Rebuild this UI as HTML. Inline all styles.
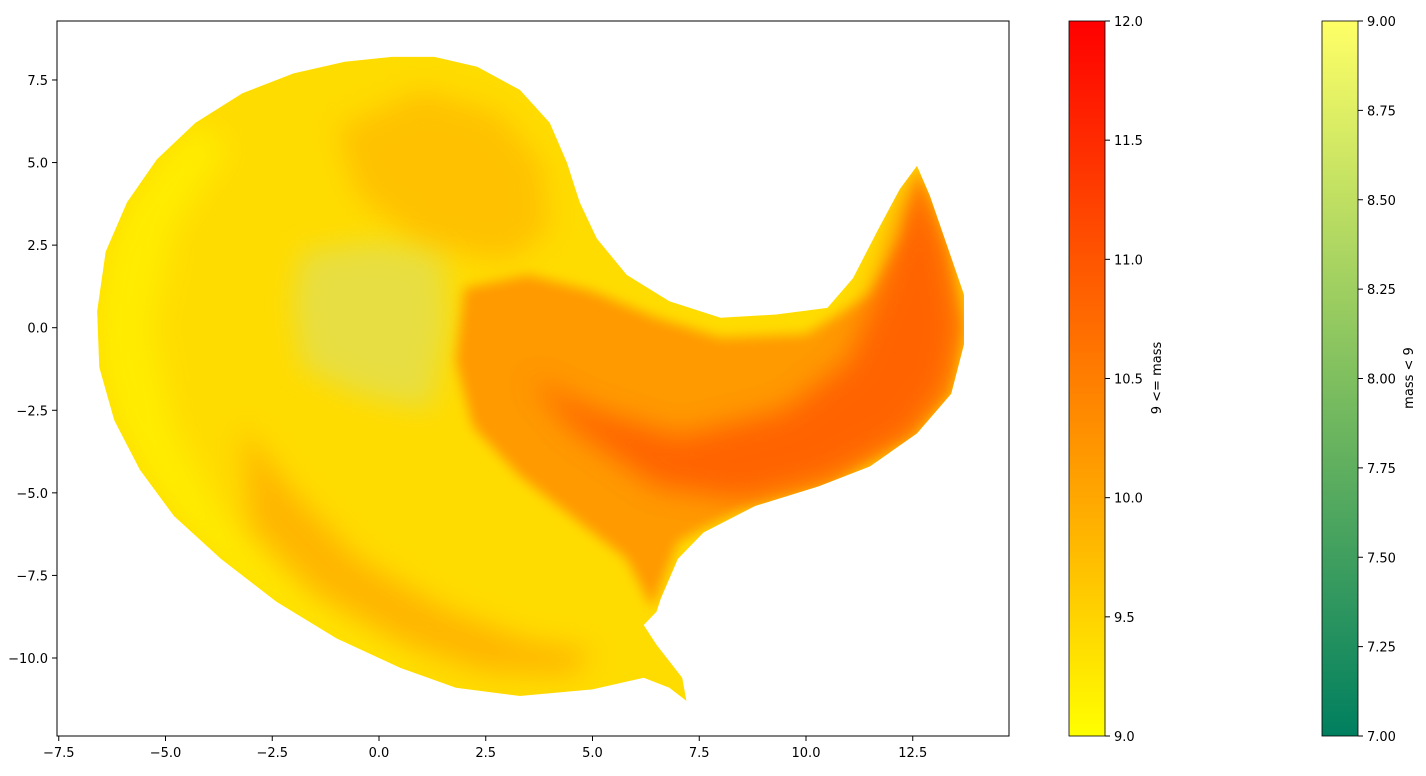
<!DOCTYPE html>
<html><head><meta charset="utf-8"><style>
body{margin:0;background:#fff;}
svg text{font-family:"DejaVu Sans","Liberation Sans",sans-serif;font-size:13px;fill:#000;}
</style></head><body>
<svg id="chart" width="1426" height="771" viewBox="0 0 1426 771">
<defs>
<filter id="blur6" x="-20%" y="-20%" width="140%" height="140%"><feGaussianBlur stdDeviation="6"/></filter>
<filter id="blur14" x="-30%" y="-30%" width="160%" height="160%"><feGaussianBlur stdDeviation="14"/></filter>
<linearGradient id="cb1" x1="0" y1="1" x2="0" y2="0">
<stop offset="0" stop-color="#ffff00"/><stop offset="0.33" stop-color="#ffa800"/><stop offset="0.67" stop-color="#ff5400"/><stop offset="1" stop-color="#ff0000"/></linearGradient>
<linearGradient id="cb2" x1="0" y1="1" x2="0" y2="0">
<stop offset="0" stop-color="#007f5f"/><stop offset="0.5" stop-color="#7fbf5f"/><stop offset="1" stop-color="#ffff66"/></linearGradient>
<clipPath id="blobclip"><path id="clipPathEl"/></clipPath>
</defs>
<g id="plot"></g>
<rect x="57" y="21" width="952" height="715" fill="none" stroke="#000" stroke-width="1"/>
<g id="xt"></g>
<g id="yt"></g>
<rect x="1069" y="21" width="36" height="715" fill="url(#cb1)" stroke="#000" stroke-width="0.8"/>
<g id="cb1t"></g>
<text x="1161" y="378" text-anchor="middle" transform="rotate(-90 1161 378)">9 &lt;= mass</text>
<rect x="1322" y="21" width="36" height="715" fill="url(#cb2)" stroke="#000" stroke-width="0.8"/>
<g id="cb2t"></g>
<text x="1413" y="378" text-anchor="middle" transform="rotate(-90 1413 378)">mass &lt; 9</text>
</svg>
<script>
const xTicks=[-7.5,-5.0,-2.5,0.0,2.5,5.0,7.5,10.0,12.5];
const yTicks=[7.5,5.0,2.5,0.0,-2.5,-5.0,-7.5,-10.0];
const cb1Ticks=[9.0,9.5,10.0,10.5,11.0,11.5,12.0];
const cb2Ticks=[7.00,7.25,7.50,7.75,8.00,8.25,8.50,8.75,9.00];
// region outlines in data coordinates [x,y]
const outerBlob=[[0.3,8.2],[-0.8,8.05],[-2,7.7],[-3.2,7.1],[-4.3,6.2],[-5.2,5.1],[-5.9,3.8],[-6.4,2.3],[-6.6,0.5],[-6.55,-1.2],[-6.2,-2.8],[-5.6,-4.3],[-4.8,-5.7],[-3.7,-7],[-2.4,-8.3],[-1,-9.4],[0.5,-10.3],[1.8,-10.9],[3.3,-11.15],[5,-10.95],[6.2,-10.6],[6.8,-10.9],[7.2,-11.3],[7.1,-10.6],[6.5,-9.6],[6.2,-9],[6.5,-8.6],[6.6,-8.2],[7,-7],[7.6,-6.2],[8.8,-5.4],[10.3,-4.8],[11.5,-4.2],[12.6,-3.2],[13.4,-2],[13.7,-0.5],[13.7,1],[13.3,2.5],[12.9,4],[12.6,4.9],[12.2,4.2],[11.7,3],[11.1,1.5],[10.5,0.6],[9.3,0.4],[8,0.3],[6.8,0.8],[5.8,1.6],[5.1,2.7],[4.7,3.8],[4.4,5],[4,6.2],[3.3,7.2],[2.3,7.9],[1.3,8.2]];
const orangeLobe=[[2,1.2],[3.5,1.6],[5,1.1],[6.5,0.3],[8,-0.3],[10,-0.2],[11.5,1],[12.3,2.8],[12.6,4.9],[13.3,2.5],[13.7,0],[13.4,-2],[12.5,-3.3],[10.5,-4.8],[8.5,-5.5],[7,-6.5],[6.4,-8.5],[5.8,-7],[4.6,-5.8],[3.3,-4.5],[2.2,-3],[1.8,-1]];
const redCore=[[9.5,-2.5],[11,-1],[11.8,1.5],[12.4,4],[12.6,4.8],[13.3,2.3],[13.6,0],[13.3,-1.8],[12.4,-3.3],[10.5,-4.6],[8.5,-5.2],[6.5,-4.8],[4.5,-3],[3.5,-1.5],[5,-2.5],[7,-3.3]];
const orangeBand=[[-3.2,-3],[-2,-5],[-0.5,-7],[1.5,-8.5],[3.5,-9.5],[5,-9.8],[4.5,-10.5],[2.5,-10.4],[0.5,-9.5],[-1.5,-8],[-3,-6]];
const orangeTop=[[-1,6],[1,7.2],[2.8,6.5],[3.8,5],[4,3],[3,2],[1,2.5],[-0.5,4]];
const tealPatch=[[-1.8,2.3],[0,2.6],[1.5,2.2],[1.6,0],[1.2,-2.5],[-0.5,-2],[-1.8,-1.2],[-2,0.8]];
const yellowEdge=[[-6.6,0.5],[-6.4,2.3],[-5.9,3.8],[-5.2,5.1],[-4.3,6.2],[-3.5,5.5],[-4.8,3],[-5.3,0],[-4.8,-3],[-3.8,-5.5],[-2.5,-7.5],[-1,-9],[1,-10.2],[0.5,-10.3],[-1,-9.4],[-2.4,-8.3],[-3.7,-7],[-4.8,-5.7],[-5.6,-4.3],[-6.2,-2.8],[-6.55,-1.2]];
const X0=379,XS=42.7,Y0=327.7,YS=33.03;
const sx=v=>X0+v*XS, sy=v=>Y0-v*YS;
const ns='http://www.w3.org/2000/svg';
function pathOf(pts){return 'M'+pts.map(p=>sx(p[0]).toFixed(1)+','+sy(p[1]).toFixed(1)).join('L')+'Z';}
const plot=document.getElementById('plot');
document.getElementById('clipPathEl').setAttribute('d',pathOf(outerBlob));
function region(pts,fill,filt,op,name,clip){
 const p=document.createElementNS(ns,'path');
 p.setAttribute('d',pathOf(pts));p.setAttribute('fill',fill);
 if(filt)p.setAttribute('filter',filt);
 if(op)p.setAttribute('opacity',op);
 
 
 if(clip){const g=document.createElementNS(ns,'g');g.setAttribute('clip-path','url(#blobclip)');g.appendChild(p);plot.appendChild(g);}
 else plot.appendChild(p);
}
region(outerBlob,'#ffdc00',null,null,'scatter-main-cloud',false);
region(yellowEdge,'#fff000','url(#blur14)',0.8,'scatter-left-yellow-edge',true);
region(orangeTop,'#ffb400','url(#blur14)',0.65,'scatter-top-orange',true);
region(orangeBand,'#ffa800','url(#blur14)',0.75,'scatter-bottom-orange-band',true);
region(tealPatch,'#d8e070','url(#blur14)',0.6,'scatter-low-mass-patch',true);
region(orangeLobe,'#ff9a00','url(#blur6)',null,'scatter-right-lobe',true);
region(redCore,'#ff5a00','url(#blur14)',0.85,'scatter-high-mass-core',true);
// axis ticks
const xt=document.getElementById('xt');
xTicks.forEach(v=>{
 const l=document.createElementNS(ns,'line');
 l.setAttribute('x1',sx(v));l.setAttribute('x2',sx(v));l.setAttribute('y1',736);l.setAttribute('y2',741);l.setAttribute('stroke','#000');
 
 
 xt.appendChild(l);
 const t=document.createElementNS(ns,'text');
 t.setAttribute('x',sx(v));t.setAttribute('y',757);t.setAttribute('text-anchor','middle');
 t.textContent=(v<0?'\u2212':'')+Math.abs(v).toFixed(1);
 
 
 xt.appendChild(t);
});
const yt=document.getElementById('yt');
yTicks.forEach(v=>{
 const l=document.createElementNS(ns,'line');
 l.setAttribute('x1',52);l.setAttribute('x2',57);l.setAttribute('y1',sy(v));l.setAttribute('y2',sy(v));l.setAttribute('stroke','#000');
 
 
 yt.appendChild(l);
 const t=document.createElementNS(ns,'text');
 t.setAttribute('x',48);t.setAttribute('y',sy(v)+5);t.setAttribute('text-anchor','end');
 t.textContent=(v<0?'\u2212':'')+Math.abs(v).toFixed(1);
 
 
 yt.appendChild(t);
});
function cbTicks(id,ticks,lo,hi,x,dec){
 const g=document.getElementById(id);
 ticks.forEach(v=>{
  const y=736-(v-lo)/(hi-lo)*715;
  const l=document.createElementNS(ns,'line');
  l.setAttribute('x1',x);l.setAttribute('x2',x+5);l.setAttribute('y1',y);l.setAttribute('y2',y);l.setAttribute('stroke','#000');
  
  
  g.appendChild(l);
  const t=document.createElementNS(ns,'text');
  t.setAttribute('x',x+9);t.setAttribute('y',y+5);
  t.textContent=v.toFixed(dec);
  
  
  g.appendChild(t);
 });
}
cbTicks('cb1t',cb1Ticks,9,12,1105,1);
cbTicks('cb2t',cb2Ticks,7,9,1358,2);
</script>
</body></html>
